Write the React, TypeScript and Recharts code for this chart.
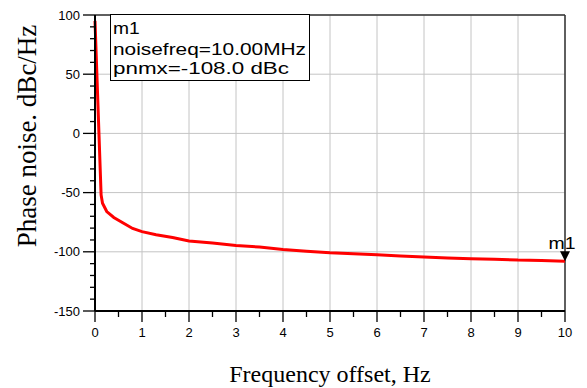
import React from 'react';
import { LineChart, Line, XAxis, YAxis, CartesianGrid, ReferenceLine, ReferenceDot } from 'recharts';

const freqOffset = [0, 0.13, 0.16, 0.25, 0.4, 0.6, 0.8, 1.0, 1.3, 1.65, 2.0, 2.5, 3.0, 3.5, 4.0, 4.5, 5.0, 5.5, 6.0, 6.5, 7.0, 7.5, 8.0, 8.5, 9.0, 9.5, 10];
const phaseNoise = [95, -52, -59, -66, -71, -75.7, -80.3, -83, -85.6, -88, -90.8, -92.6, -94.6, -96, -98, -99.5, -100.8, -101.6, -102.4, -103.5, -104.4, -105.3, -105.8, -106.2, -107, -107.3, -108];

const xMajorTicks = [0, 1, 2, 3, 4, 5, 6, 7, 8, 9, 10];
const xAllTicks = [0, 0.5, 1, 1.5, 2, 2.5, 3, 3.5, 4, 4.5, 5, 5.5, 6, 6.5, 7, 7.5, 8, 8.5, 9, 9.5, 10];
const yMajorTicks = [-150, -100, -50, 0, 50, 100];
const yAllTicks = [-150, -140, -130, -120, -110, -100, -90, -80, -70, -60, -50, -40, -30, -20, -10, 0, 10, 20, 30, 40, 50, 60, 70, 80, 90, 100];

const markerName = 'm1';
const markerFreq = 10;
const markerValue = -108;
const legendLines = ['m1', 'noisefreq=10.00MHz', 'pnmx=-108.0 dBc'];
const xTitle = 'Frequency offset, Hz';
const yTitle = 'Phase noise. dBc/Hz';

const data = freqOffset.map((f, i) => ({ f, pn: phaseNoise[i] }));

const SANS = 'Liberation Sans, Arial, sans-serif';
const SERIF = 'Liberation Serif, Times New Roman, serif';

const YTick = (props: any) => {
  const { x, y, payload } = props;
  const v = payload.value;
  const major = yMajorTicks.includes(v);
  return (
    <g>
      <line x1={x - (major ? 12 : 5)} x2={x} y1={y} y2={y} stroke="#000" strokeWidth={1.3} />
      {major && (
        <text x={x - 15} y={y} dy={4.5} textAnchor="end" fontSize={13} fontFamily={SANS} fill="#000">
          {v}
        </text>
      )}
    </g>
  );
};

const XTick = (props: any) => {
  const { x, y, payload } = props;
  const v = payload.value;
  const major = xMajorTicks.includes(v);
  return (
    <g>
      <line x1={x} x2={x} y1={y} y2={y + (major ? 11 : 6)} stroke="#000" strokeWidth={1.3} />
      {major && (
        <text x={x} y={y + 26} textAnchor="middle" fontSize={13} fontFamily={SANS} fill="#000">
          {v}
        </text>
      )}
    </g>
  );
};

const MarkerShape = (props: any) => {
  const { cx, cy } = props;
  return (
    <g>
      <path d={`M${cx - 5},${cy - 10} L${cx + 5},${cy - 10} L${cx},${cy} Z`} fill="#000" />
      <text x={cx - 3} y={cy - 12} textAnchor="middle" fontSize={17} fontFamily={SANS} fill="#000" textLength={27} lengthAdjust="spacingAndGlyphs">
        {markerName}
      </text>
    </g>
  );
};

const legendWidths = [26.7, 193, 176];
const legendBaselines = [26, 47, 66];

export default function App() {
  return (
    <div style={{ position: 'relative', width: 579, height: 380 }}>
      <LineChart width={579} height={380} data={data} margin={{ top: 7, right: 22, left: 0, bottom: 0 }}>
        <CartesianGrid stroke="#c4c4c4" strokeWidth={1} horizontalValues={yMajorTicks} verticalValues={xMajorTicks} />
        <XAxis
          dataKey="f"
          type="number"
          domain={[0, 10]}
          ticks={xAllTicks}
          interval={0}
          height={77}
          tickSize={0}
          tickMargin={0}
          tickLine={false}
          axisLine={{ stroke: '#000', strokeWidth: 2 }}
          tick={<XTick />}
        />
        <YAxis
          type="number"
          domain={[-150, 100]}
          ticks={yAllTicks}
          interval={0}
          width={87}
          tickSize={0}
          tickMargin={0}
          tickLine={false}
          axisLine={{ stroke: '#000', strokeWidth: 2 }}
          tick={<YTick />}
        />
        <ReferenceLine y={100} stroke="#333" strokeWidth={1.5} />
        <ReferenceLine x={10} stroke="#333" strokeWidth={1.5} />
        <Line
          dataKey="pn"
          stroke="#ff0000"
          strokeWidth={3}
          dot={false}
          isAnimationActive={false}
          type="linear"
        />
        <ReferenceDot x={markerFreq} y={markerValue} shape={<MarkerShape />} ifOverflow="visible" />
      </LineChart>
      <svg width={579} height={380} style={{ position: 'absolute', left: 0, top: 0, pointerEvents: 'none' }}>
        <rect x={102.5} y={6.5} width={199} height={66} fill="#fff" stroke="#000" strokeWidth={1} />
        {legendLines.map((t, i) => (
          <text key={t} x={105} y={legendBaselines[i]} fontSize={16.5} fontFamily={SANS} fill="#000" textLength={legendWidths[i]} lengthAdjust="spacingAndGlyphs">
            {t}
          </text>
        ))}
        <text x={322} y={373.5} textAnchor="middle" fontSize={24} fontFamily={SERIF} fill="#000">
          {xTitle}
        </text>
        <text transform="translate(28,128) rotate(-90)" textAnchor="middle" fontSize={27} fontFamily={SERIF} fill="#000">
          {yTitle}
        </text>
      </svg>
    </div>
  );
}
